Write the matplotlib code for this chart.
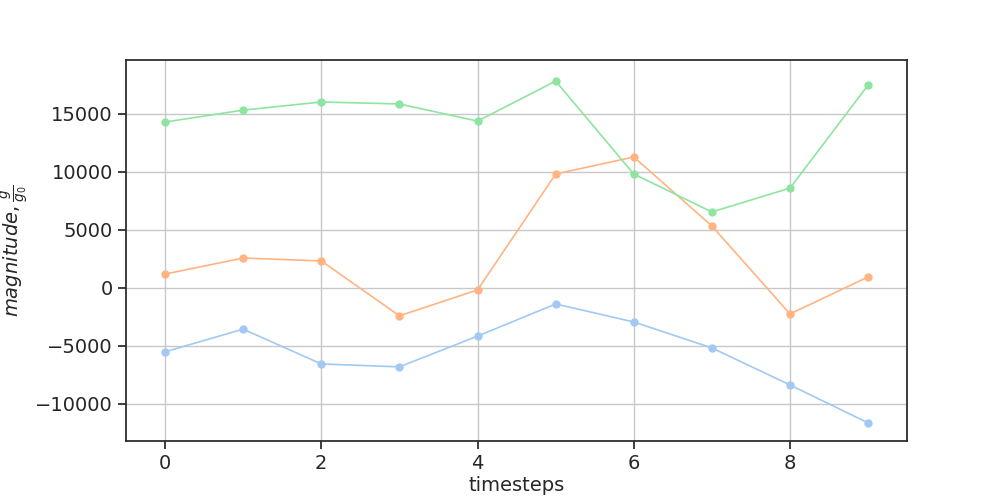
import numpy as np
import matplotlib
matplotlib.use("Agg")
import matplotlib.pyplot as plt
import seaborn as sns

sns.set_theme(style="ticks", palette="pastel")
plt.rcParams['font.family'] = ['DejaVu Sans']

timesteps = np.arange(10)
series_a = [-5500, -3550, -6550, -6800, -4150, -1380, -2930, -5170, -8360, -11630]
series_b = [1200, 2580, 2330, -2400, -170, 9820, 11290, 5340, -2240, 950]
series_c = [14300, 15330, 16030, 15860, 14380, 17830, 9820, 6550, 8610, 17490]

fig = plt.figure(figsize=(10.08, 5.04), dpi=100)
fig.subplots_adjust(left=0.125, right=0.9, top=0.881, bottom=0.125)
ax = fig.add_subplot()
for s in [series_a, series_b, series_c]:
    ax.plot(timesteps, s, marker="o", markersize=5, linewidth=1.2)

ax.set_xlim(-0.5, 9.5)
ax.set_ylim(-13190, 19650)
ax.grid(True, color="#c8c8c8")
ax.set_xlabel("timesteps", fontsize=14, labelpad=2)
ax.set_ylabel(r"$magnitude, \frac{g}{g_0}$", fontsize=14)
ax.yaxis.set_label_coords(-0.121, 0.5)
ax.tick_params(labelsize=14)

fig.savefig("out.png", dpi=100)
